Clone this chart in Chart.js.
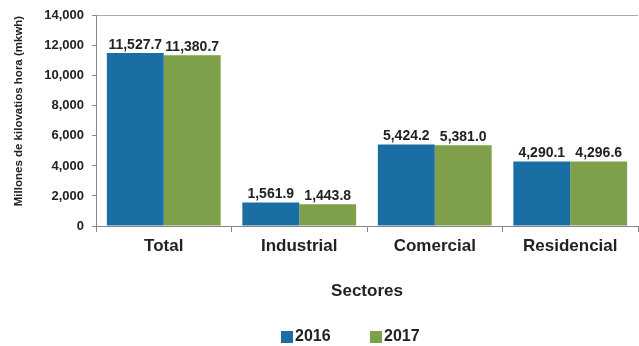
<!DOCTYPE html>
<html>
<head>
<meta charset="utf-8">
<script src="https://cdn.jsdelivr.net/npm/chart.js@4/dist/chart.umd.min.js"></script>
<style>
  html, body { margin: 0; padding: 0; background: #fff; }
  #wrap { width: 639px; height: 346px; }
</style>
</head>
<body>
<div id="wrap"><canvas id="grafico" width="639" height="346"></canvas></div>
<script>
const sectores = ["Total", "Industrial", "Comercial", "Residencial"];
const valores2016 = [11527.7, 1561.9, 5424.2, 4290.1];
const valores2017 = [11380.7, 1443.8, 5381.0, 4296.6];
const ticksY = [0, 2000, 4000, 6000, 8000, 10000, 12000, 14000];

const fuente = "'Liberation Sans', Arial, sans-serif";
const colores = ["#1b6ea3", "#7ea04a"];

// etiquetas encima de cada barra + leyenda abajo
const etiquetasBarras = {
  id: "etiquetasBarras",
  afterDatasetsDraw(chart) {
    const ctx = chart.ctx;
    ctx.save();
    ctx.font = "bold 14px " + fuente;
    ctx.fillStyle = "#222";
    ctx.textAlign = "center";
    ctx.textBaseline = "bottom";
    chart.data.datasets.forEach((ds, i) => {
      chart.getDatasetMeta(i).data.forEach((bar, j) => {
        const txt = ds.data[j].toLocaleString("en-US", { minimumFractionDigits: 1, maximumFractionDigits: 1 });
        ctx.fillText(txt, bar.x, bar.y - 1);
      });
    });
    ctx.restore();
  },
  afterDraw(chart) {
    const ctx = chart.ctx;
    ctx.save();
    ctx.font = "bold 16px " + fuente;
    ctx.textBaseline = "middle";
    ctx.textAlign = "left";
    const y = 337;
    let x = 281;
    chart.data.datasets.forEach((ds, i) => {
      ctx.fillStyle = ds.backgroundColor;
      ctx.fillRect(x, y - 6, 12, 12);
      ctx.fillStyle = "#222";
      ctx.fillText(ds.label, x + 14, y);
      x += 89;
    });
    ctx.restore();
  }
};

new Chart(document.getElementById("grafico").getContext("2d"), {
  type: "bar",
  data: {
    labels: sectores,
    datasets: [
      {
        label: "2016",
        data: valores2016,
        backgroundColor: colores[0],
        borderWidth: 0,
        categoryPercentage: 0.84,
        barPercentage: 1.0
      },
      {
        label: "2017",
        data: valores2017,
        backgroundColor: colores[1],
        borderWidth: 0,
        categoryPercentage: 0.84,
        barPercentage: 1.0
      }
    ]
  },
  options: {
    responsive: false,
    animation: false,
    layout: { padding: { top: 13, right: 1, left: 0, bottom: 38 } },
    plugins: {
      tooltip: { enabled: false },
      legend: { display: false }
    },
    scales: {
      x: {
        grid: {
          drawOnChartArea: false,
          tickColor: "#888",
          tickLength: 6,
          offset: true
        },
        border: { color: "#888", width: 1 },
        ticks: {
          font: { family: fuente, size: 17, weight: "bold" },
          color: "#222",
          padding: 4
        },
        title: {
          display: true,
          text: "Sectores",
          font: { family: fuente, size: 17, weight: "bold" },
          color: "#222",
          padding: { top: 0, bottom: 6 }
        },
        afterFit(scale) { scale.height = 82; }
      },
      y: {
        min: 0,
        max: 14000,
        afterBuildTicks(scale) { scale.ticks = ticksY.map(v => ({ value: v })); },
        grid: {
          color: ctx => (ctx.tick && ctx.tick.value === 14000 ? "#aaa" : "rgba(0,0,0,0)"),
          tickColor: "#888",
          tickLength: 4,
          lineWidth: 1
        },
        border: { color: "#888", width: 1 },
        ticks: {
          font: { family: fuente, size: 13, weight: "bold" },
          color: "#222",
          padding: 8,
          callback: v => v.toLocaleString("en-US")
        },
        title: {
          display: true,
          text: "Millones de kilovatios hora (mkwh)",
          align: "end",
          font: { family: fuente, size: 11.5, weight: "bold" },
          color: "#222",
          padding: { top: 12, bottom: 0 }
        },
        afterFit(scale) { scale.width = 96; }
      }
    }
  },
  plugins: [etiquetasBarras]
});
</script>
</body>
</html>
